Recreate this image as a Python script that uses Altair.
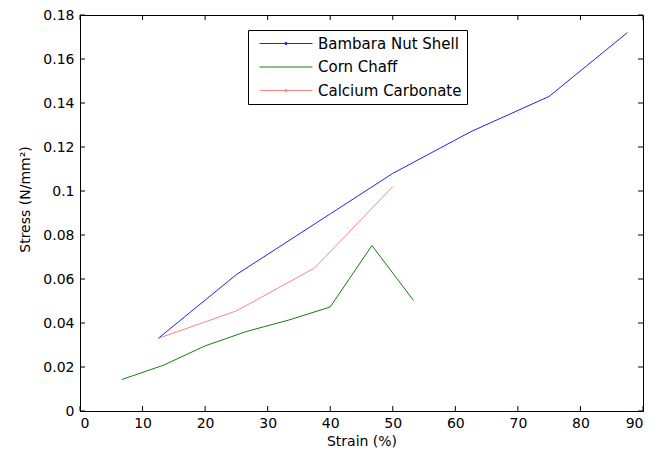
import altair as alt
import pandas as pd

series_names = ["Bambara Nut Shell", "Corn Chaff", "Calcium Carbonate"]
series_colors = ["#2020ff", "#108010", "#ff8484"]

bambara_strain = [12.5, 25, 50, 62.5, 75, 87.5]
bambara_stress = [0.033, 0.062, 0.108, 0.127, 0.143, 0.172]

corn_strain = [6.67, 13.33, 20, 26.67, 33.33, 40, 46.67, 53.33]
corn_stress = [0.0143, 0.0208, 0.0296, 0.0362, 0.0413, 0.0473, 0.0752, 0.0502]

calcium_strain = [12.5, 25, 37.5, 50]
calcium_stress = [0.033, 0.0455, 0.065, 0.102]

x_ticks = [0, 10, 20, 30, 40, 50, 60, 70, 80, 90]
y_ticks = [0, 0.02, 0.04, 0.06, 0.08, 0.1, 0.12, 0.14, 0.16, 0.18]

rows = []
for name, xs, ys in [
    (series_names[0], bambara_strain, bambara_stress),
    (series_names[1], corn_strain, corn_stress),
    (series_names[2], calcium_strain, calcium_stress),
]:
    for i, (xv, yv) in enumerate(zip(xs, ys)):
        rows.append({"series": name, "strain": xv, "stress": yv, "order": i})
df = pd.DataFrame(rows)
xt = pd.DataFrame({"t": x_ticks})
yt = pd.DataFrame({"t": y_ticks})

W, H = 563, 396
FONT = "DejaVu Sans"
TICK = 5
LINE_DOT = "M-3.53,0H3.53M0.17,0A0.17,0.17,0,1,1,-0.17,0A0.17,0.17,0,1,1,0.17,0Z"
LINE_ONLY = "M-3.53,0H3.53"

x_scale = alt.Scale(domain=[0, 90], nice=False, zero=False)
y_scale = alt.Scale(domain=[0, 0.18], nice=False, zero=False)
color_scale = alt.Scale(domain=series_names, range=series_colors)
shape_scale = alt.Scale(domain=series_names, range=[LINE_DOT, LINE_ONLY, LINE_DOT])

legend = alt.Legend(
    title=None, orient="none", legendX=168, legendY=15,
    padding=5.5, symbolOffset=24.5, symbolSize=225, symbolStrokeWidth=1,
    labelFont=FONT, labelFontSize=15, labelColor="black", labelOffset=24,
    rowPadding=7.5, strokeColor="black", fillColor="white",
    cornerRadius=0, labelLimit=300,
)

x_axis = alt.Axis(values=x_ticks, ticks=False, grid=False, labelPadding=5,
                  titlePadding=4, format="~g")
y_axis = alt.Axis(values=y_ticks, ticks=False, grid=False, labelPadding=6,
                  titlePadding=10, titleY=184, format="~g")

lines = alt.Chart(df).mark_line(strokeWidth=1).encode(
    x=alt.X("strain:Q", scale=x_scale, axis=x_axis, title="Strain (%)"),
    y=alt.Y("stress:Q", scale=y_scale, axis=y_axis, title="Stress (N/mm²)"),
    color=alt.Color("series:N", scale=color_scale, legend=legend),
    order="order:Q",
)

keys = alt.Chart(df).mark_point(filled=False, opacity=1).encode(
    x=alt.X("strain:Q", scale=x_scale),
    y=alt.Y("stress:Q", scale=y_scale),
    color=alt.Color("series:N", scale=color_scale, legend=legend),
    shape=alt.Shape("series:N", scale=shape_scale, legend=legend),
).transform_filter("false")

bottom_ticks = alt.Chart(xt).mark_rule(color="black", strokeWidth=1).encode(
    x=alt.X("t:Q", scale=x_scale), y=alt.value(H), y2=alt.value(H - TICK))
top_ticks = alt.Chart(xt).mark_rule(color="black", strokeWidth=1).encode(
    x=alt.X("t:Q", scale=x_scale), y=alt.value(0), y2=alt.value(TICK))
left_ticks = alt.Chart(yt).mark_rule(color="black", strokeWidth=1).encode(
    y=alt.Y("t:Q", scale=y_scale), x=alt.value(0), x2=alt.value(TICK))
right_ticks = alt.Chart(yt).mark_rule(color="black", strokeWidth=1).encode(
    y=alt.Y("t:Q", scale=y_scale), x=alt.value(W), x2=alt.value(W - TICK))

chart = alt.layer(
    bottom_ticks, top_ticks, left_ticks, right_ticks, lines, keys
).properties(
    width=W, height=H,
    padding={"left": 72, "top": 7, "right": 7, "bottom": 37},
    autosize=alt.AutoSizeParams(type="none"),
    background="white",
).configure_view(
    stroke="black", strokeWidth=1
).configure_axis(
    domainColor="black", domainWidth=1,
    labelFont=FONT, labelFontSize=14, labelColor="black",
    titleFont=FONT, titleFontSize=14, titleFontWeight="normal", titleColor="black",
)

chart.save("out.html", embed_options={"renderer": "svg", "actions": False})
